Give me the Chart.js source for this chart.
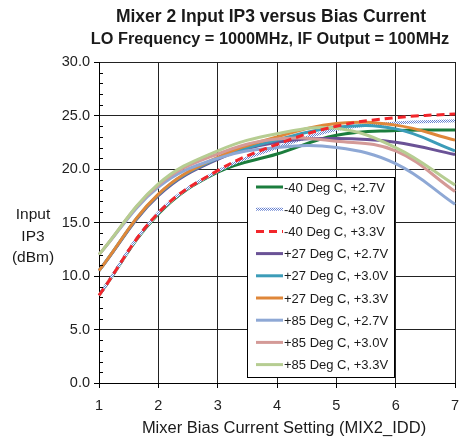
<!DOCTYPE html>
<html>
<head>
<meta charset="utf-8">
<script src="https://cdn.jsdelivr.net/npm/chart.js@4.4.0/dist/chart.umd.min.js"></script>
<style>
html, body { margin: 0; padding: 0; background: #fff; }
</style>
</head>
<body>
<canvas id="iip3Chart" width="461" height="438"></canvas>
<script>
'use strict'

// bias setting (MIX2_IDD) on the x axis
const biasSettings = ['1', '2', '3', '4', '5', '6', '7'];
const yMajorTicks = [0, 5, 10, 15, 20, 25, 30];

const seriesNames = [
  '-40 Deg C, +2.7V', '-40 Deg C, +3.0V', '-40 Deg C, +3.3V',
  '+27 Deg C, +2.7V', '+27 Deg C, +3.0V', '+27 Deg C, +3.3V',
  '+85 Deg C, +2.7V', '+85 Deg C, +3.0V', '+85 Deg C, +3.3V'
];

// input IP3 in dBm
const cold27 = [8.2, 15.8, 19.7, 21.4, 23.15, 23.6, 23.65];
const cold30 = [8.2, 15.9, 19.8, 22.0, 23.7, 24.3, 24.5];
const cold33 = [8.2, 15.9, 19.85, 22.3, 24.0, 24.8, 25.15];
const room27 = [10.5, 17.5, 20.9, 22.5, 22.85, 22.5, 21.35];
const room30 = [10.5, 17.6, 21.0, 22.7, 23.9, 23.75, 21.7];
const room33 = [10.5, 17.65, 21.1, 23.0, 24.25, 24.1, 22.7];
const hot27 = [12.0, 18.3, 21.0, 22.0, 22.0, 20.5, 16.7];
const hot30 = [12.0, 18.5, 21.4, 22.8, 22.6, 21.7, 17.9];
const hot33 = [12.0, 18.6, 21.7, 23.3, 23.8, 22.0, 18.5];

const seriesData = [cold27, cold30, cold33, room27, room30, room33, hot27, hot30, hot33];

// little checker pattern for the dotted -40C / 3.0V line
function dottedPattern() {
  let c = document.createElement('canvas');
  c.width = 2; c.height = 2;
  let g = c.getContext('2d');
  g.fillStyle = '#ffffff';
  g.fillRect(0, 0, 2, 2);
  g.fillStyle = '#6680d0';
  g.fillRect(0, 0, 1, 1);
  g.fillRect(1, 1, 1, 1);
  return g.createPattern(c, 'repeat');
}

const lineColors = ['#1b7d3d', dottedPattern(), '#f2262b', '#6a5296', '#3c9cb8', '#df8739', '#8ea8d5', '#d49a97', '#b6cd92'];
const lineDashes = [[], [], [8, 5], [], [], [], [], [], []];

let datasets = [];
for (let i = 0; i < seriesNames.length; i++) {
  datasets.push({
    label: seriesNames[i],
    data: seriesData[i],
    borderColor: lineColors[i],
    backgroundColor: lineColors[i],
    borderWidth: 3,
    borderDash: lineDashes[i],
    pointRadius: 0,
    tension: 0.4,
    fill: false,
    order: i == 2 ? -1 : seriesNames.length - i
  });
}

const textFont = '"Liberation Sans", Arial, sans-serif';

const extrasPlugin = {
  id: 'extras',
  afterDraw(chart) {
    const ctx = chart.ctx;
    const y = chart.scales.y;
    ctx.save();
    ctx.fillStyle = '#1a1a1a';
    ctx.textAlign = 'center';
    ctx.textBaseline = 'middle';
    ctx.font = 'bold 17.5px ' + textFont;
    ctx.fillText('Mixer 2 Input IP3 versus Bias Current', 271, 17);
    ctx.font = 'bold 16.3px ' + textFont;
    ctx.fillText('LO Frequency = 1000MHz, IF Output = 100MHz', 270, 40);

    ctx.font = '15.5px ' + textFont;
    ctx.fillText('Input', 33, 215);
    ctx.fillText('IP3', 33, 237);
    ctx.fillText('(dBm)', 33, 258);

    ctx.font = '16.5px ' + textFont;
    ctx.fillText('Mixer Bias Current Setting (MIX2_IDD)', 284, 428);

    // minor ticks point into the plot
    ctx.strokeStyle = '#000';
    ctx.lineWidth = 1;
    for (let v = 0; v <= 30; v++) {
      if (v % 5 == 0) continue;
      let py = Math.round(y.getPixelForValue(v)) + 0.5;
      ctx.beginPath();
      ctx.moveTo(y.right, py);
      ctx.lineTo(y.right + 4, py);
      ctx.stroke();
    }
    ctx.restore();
  },
  afterDatasetsDraw(chart) {
    const ctx = chart.ctx;
    const left = 247, top = 177, width = 147, height = 200;
    ctx.save();
    ctx.fillStyle = '#fff';
    ctx.fillRect(left, top, width, height);
    ctx.strokeStyle = '#000';
    ctx.lineWidth = 1;
    ctx.strokeRect(left + 0.5, top + 0.5, width, height);
    ctx.font = '13px ' + textFont;
    ctx.textAlign = 'left';
    ctx.textBaseline = 'middle';
    chart.data.datasets.forEach(function (ds, i) {
      let rowY = top + 10 + i * 22.2;
      ctx.strokeStyle = ds.borderColor;
      ctx.lineWidth = 3;
      ctx.setLineDash(ds.borderDash);
      ctx.beginPath();
      ctx.moveTo(left + 9, rowY);
      ctx.lineTo(left + 36, rowY);
      ctx.stroke();
      ctx.setLineDash([]);
      ctx.fillStyle = '#1a1a1a';
      ctx.fillText(ds.label, left + 37, rowY + 1);
    });
    ctx.restore();
  }
};

const ctx = document.getElementById('iip3Chart').getContext('2d');
const iip3Chart = new Chart(ctx, {
  type: 'line',
  data: {
    labels: biasSettings,
    datasets: datasets
  },
  options: {
    responsive: false,
    animation: false,
    devicePixelRatio: 1,
    layout: { padding: { top: 62, right: 6, left: 0, bottom: 0 } },
    plugins: {
      legend: { display: false },
      tooltip: { enabled: false },
      title: { display: false }
    },
    scales: {
      x: {
        offset: false,
        grid: { color: '#222', lineWidth: 1, tickLength: 5, tickColor: '#000' },
        border: { color: '#000', width: 1 },
        ticks: { color: '#222', font: { family: textFont, size: 14.5 }, padding: 9, maxRotation: 0 },
        title: { display: false },
        afterFit(scale) {
          scale.height = 55;
          scale.paddingLeft = 0;
          scale.paddingRight = 0;
        }
      },
      y: {
        min: 0,
        max: 30,
        grid: { color: '#222', lineWidth: 1, tickLength: 5, tickColor: '#000' },
        border: { color: '#000', width: 1 },
        ticks: {
          stepSize: 5,
          color: '#222',
          font: { family: textFont, size: 14.5 },
          padding: 4,
          callback: function (v) { return yMajorTicks.includes(v) ? v.toFixed(1) : ''; }
        },
        afterFit(scale) { scale.width = 99; }
      }
    }
  },
  plugins: [extrasPlugin]
});
</script>
</body>
</html>
